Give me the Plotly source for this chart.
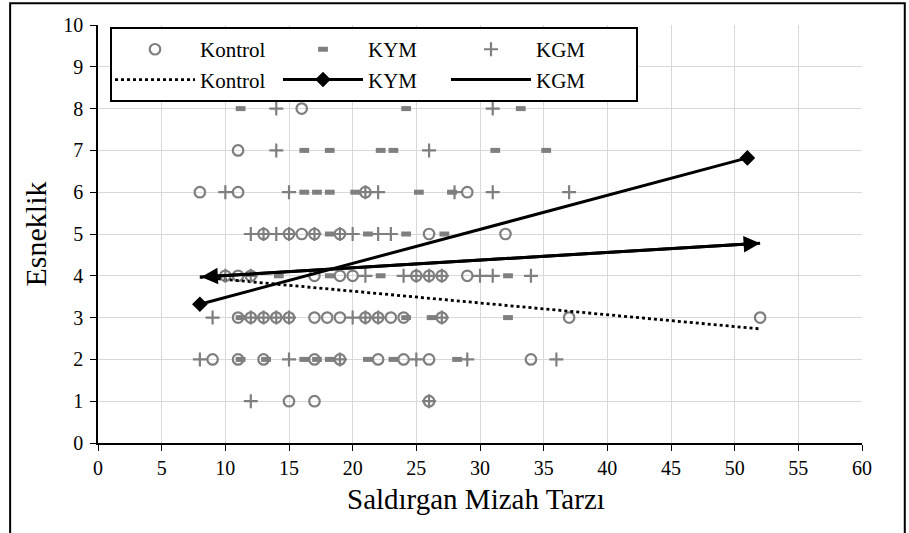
import plotly.graph_objects as go

# ---------------- data ----------------
kontrol_x = [16, 11, 8, 11, 21, 29, 13, 15, 16, 17, 19, 26, 32,
             10, 11, 12, 17, 19, 20, 25, 26, 27, 29,
             11, 12, 13, 14, 15, 17, 18, 19, 21, 22, 23, 24, 27, 37, 52,
             9, 11, 13, 17, 19, 22, 24, 26, 34, 15, 17, 26]
kontrol_y = [8, 7, 6, 6, 6, 6, 5, 5, 5, 5, 5, 5, 5,
             4, 4, 4, 4, 4, 4, 4, 4, 4, 4,
             3, 3, 3, 3, 3, 3, 3, 3, 3, 3, 3, 3, 3, 3, 3,
             2, 2, 2, 2, 2, 2, 2, 2, 2, 1, 1, 1]

kym_x = [11.2, 24.2, 33.2,
         16.2, 18.2, 22.2, 23.2, 31.2, 35.2,
         16.2, 17.2, 18.2, 20.2, 25.2, 27.8,
         18.2, 21.2, 24.2, 27.2,
         14.2, 18.2, 22.2, 32.2,
         11.2, 24.2, 26.2, 32.2,
         11.2, 13.2, 16.2, 17.2, 18.2, 21.2, 23.2, 28.2]
kym_y = [8, 8, 8,
         7, 7, 7, 7, 7, 7,
         6, 6, 6, 6, 6, 6,
         5, 5, 5, 5,
         4, 4, 4, 4,
         3, 3, 3, 3,
         2, 2, 2, 2, 2, 2, 2, 2]

kgm_x = [14, 31, 14, 26,
         10, 15, 21, 22, 28, 31, 37,
         12, 13, 14, 15, 17, 19, 20, 22, 23,
         10, 12, 21, 24, 25, 26, 27, 30, 31, 34,
         9, 12, 13, 14, 15, 20, 21, 22, 27,
         8, 15, 19, 25, 29, 36, 12, 26]
kgm_y = [8, 8, 7, 7,
         6, 6, 6, 6, 6, 6, 6,
         5, 5, 5, 5, 5, 5, 5, 5, 5,
         4, 4, 4, 4, 4, 4, 4, 4, 4, 4,
         3, 3, 3, 3, 3, 3, 3, 3, 3,
         2, 2, 2, 2, 2, 2, 1, 1]

kontrol_fit_x = [8, 52]
kontrol_fit_y = [3.97, 2.73]
kym_fit_x = [8, 51]
kym_fit_y = [3.32, 6.82]
kgm_fit_x = [8, 52]
kgm_fit_y = [3.97, 4.78]

x_title = "Saldırgan Mizah Tarzı"
y_title = "Esneklik"

# ---------------- style ----------------
FONT = "Liberation Serif, serif"
GRAY = "#7f7f7f"

fig = go.Figure()

fig.add_trace(go.Scatter(
    x=kontrol_x, y=kontrol_y, mode="markers", name="Kontrol",
    legendgroup="k",
    marker=dict(symbol="circle-open", size=10.5, color=GRAY, line=dict(width=2.2, color=GRAY))))
fig.add_trace(go.Scatter(
    x=kontrol_fit_x, y=kontrol_fit_y, mode="lines", name="Kontrol",
    legendgroup="k",
    line=dict(color="black", width=2.8, dash="dot")))

fig.add_trace(go.Scatter(
    x=kym_x, y=kym_y, mode="markers", name="KYM",
    legendgroup="y",
    marker=dict(symbol="line-ew", size=7, color=GRAY, line=dict(width=5, color=GRAY))))
fig.add_trace(go.Scatter(
    x=kym_fit_x, y=kym_fit_y, mode="lines+markers", name="KYM",
    legendgroup="y",
    line=dict(color="black", width=3),
    marker=dict(symbol="diamond", size=12, color="black")))

fig.add_trace(go.Scatter(
    x=kgm_x, y=kgm_y, mode="markers", name="KGM",
    legendgroup="g", legendwidth=95,
    marker=dict(symbol="cross-thin", size=10, color=GRAY, line=dict(width=2.2, color=GRAY))))
fig.add_trace(go.Scatter(
    x=kgm_fit_x, y=kgm_fit_y, mode="lines", name="KGM",
    legendgroup="g", legendwidth=95,
    line=dict(color="black", width=3)))

# arrow heads on the KGM trend line
fig.add_annotation(
    x=kgm_fit_x[1], y=kgm_fit_y[1], ax=kgm_fit_x[0], ay=kgm_fit_y[0],
    xref="x", yref="y", axref="x", ayref="y", text="",
    showarrow=True, arrowside="end+start", arrowhead=2, startarrowhead=2,
    arrowsize=1.1, startarrowsize=1.1, arrowwidth=3, arrowcolor="black",
    standoff=0, startstandoff=0)

# x axis title
fig.add_annotation(
    x=0.495, y=-0.134, xref="paper", yref="paper", text=x_title,
    showarrow=False, xanchor="center", yanchor="middle",
    font=dict(family=FONT, size=29, color="black"))

# outer frame
fig.add_shape(type="rect", xref="paper", yref="paper",
              x0=-0.115, x1=1.056, y0=-0.35, y1=1.052,
              line=dict(color="black", width=2), layer="below")

fig.update_layout(
    width=909, height=533,
    margin=dict(l=98, r=47, t=25, b=90),
    paper_bgcolor="white", plot_bgcolor="white",
    font=dict(family=FONT, size=20, color="black"),
    showlegend=True,
    legend=dict(
        orientation="h", traceorder="grouped",
        x=0.0157, y=0.995, xanchor="left", yanchor="top",
        bgcolor="white", bordercolor="black", borderwidth=2,
        font=dict(family=FONT, size=21, color="black"),
        itemwidth=80, entrywidth=73, entrywidthmode="pixels", tracegroupgap=0,
    ),
    xaxis=dict(
        range=[0, 60], dtick=5, tick0=0,
        showgrid=True, gridcolor="#d9d9d9", gridwidth=1.3,
        zeroline=False, showline=True, linecolor="black", linewidth=1.5,
        ticks="outside", ticklen=6, tickcolor="black",
        tickfont=dict(family=FONT, size=20),
    ),
    yaxis=dict(
        range=[0, 10], dtick=1, tick0=0,
        showgrid=True, gridcolor="#d9d9d9", gridwidth=1.3,
        zeroline=False, showline=True, linecolor="black", linewidth=1.5,
        ticks="outside", ticklen=6, tickcolor="black",
        tickfont=dict(family=FONT, size=20), ticklabelstandoff=3,
        title=dict(text=y_title, font=dict(family=FONT, size=30), standoff=8),
    ),
)

fig.write_html("out.html", config={"displayModeBar": False},
               post_script="document.body.style.margin='0';")
